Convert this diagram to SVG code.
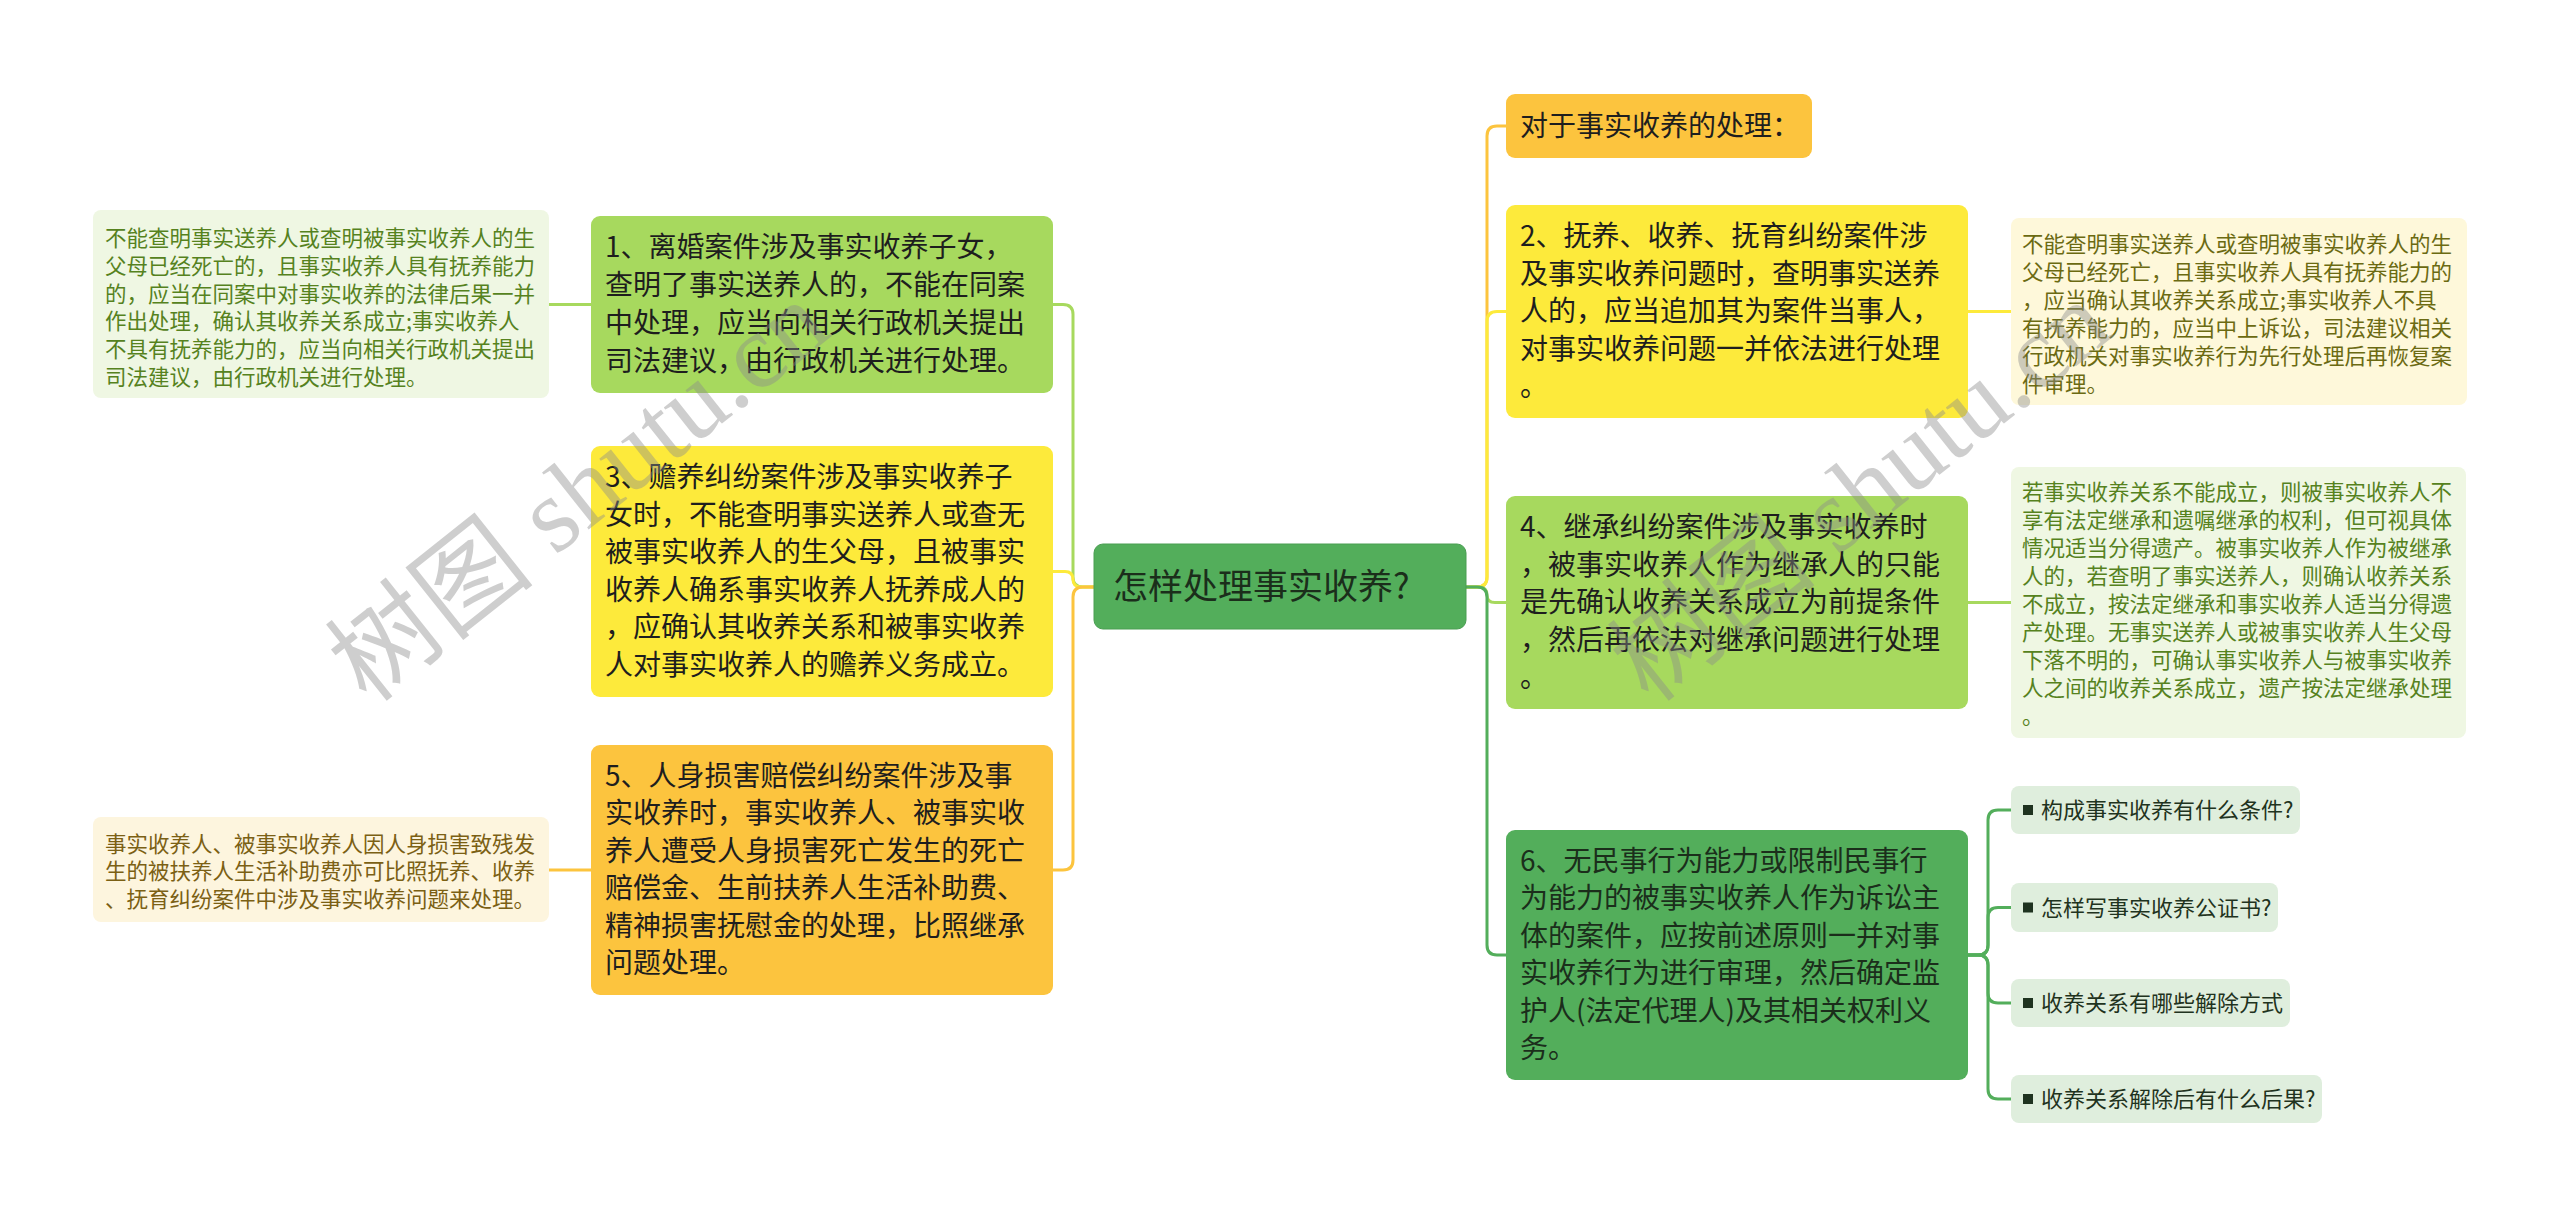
<svg xmlns="http://www.w3.org/2000/svg" width="2560" height="1218" viewBox="0 0 2560 1218">
<style>
text{font-family:"Noto Sans CJK SC","Noto Sans",sans-serif;}
.main{font-size:28px;fill:#1e1e1e;}
.dark{font-size:28px;fill:#1b2e1b;}
.root{font-size:35px;fill:#1b2e1b;}
.leaf{font-size:21.5px;}
.item{font-size:22px;fill:#1f3320;}
.c{fill:none;stroke-width:3;}
.wm{font-family:"Liberation Serif","Noto Sans CJK SC",serif;font-size:106px;fill:#8c8c8c;opacity:0.42;}
</style>
<rect width="2560" height="1218" fill="#ffffff"/>
<g id="connectors">
  <path class="c" stroke="#a7d95e" d="M1094,587 H1083 Q1073,587 1073,577 V314.5 Q1073,304.5 1063,304.5 H1053"/>
  <path class="c" stroke="#fdea3b" d="M1094,587 H1081 Q1073,587 1073,579.5 Q1073,571.5 1065,571.5 H1053"/>
  <path class="c" stroke="#fcc43e" d="M1094,587 H1083 Q1073,587 1073,597 V860 Q1073,870 1063,870 H1053"/>
  <path class="c" stroke="#a7d95e" d="M591,304.5 H549"/>
  <path class="c" stroke="#fcc43e" d="M591,870 H549"/>
  <path class="c" stroke="#fcc43e" d="M1466,587 H1477 Q1487,587 1487,577 V136 Q1487,126 1497,126 H1506"/>
  <path class="c" stroke="#fdea3b" d="M1466,587 H1477 Q1487,587 1487,577 V321.5 Q1487,311.5 1497,311.5 H1506"/>
  <path class="c" stroke="#a7d95e" d="M1466,587 H1479 Q1487,587 1487,595 Q1487,602.5 1495,602.5 H1506"/>
  <path class="c" stroke="#53ae5b" d="M1466,587 H1477 Q1487,587 1487,597 V945 Q1487,955 1497,955 H1506"/>
  <path class="c" stroke="#fdea3b" d="M1968,311.5 H2011"/>
  <path class="c" stroke="#a7d95e" d="M1968,602.5 H2011"/>
  <path class="c" stroke="#53ae5b" d="M1968,955 H1978 Q1988,955 1988,945 V820 Q1988,810 1998,810 H2011"/>
  <path class="c" stroke="#53ae5b" d="M1968,955 H1978 Q1988,955 1988,945 V917.5 Q1988,907.5 1998,907.5 H2011"/>
  <path class="c" stroke="#53ae5b" d="M1968,955 H1978 Q1988,955 1988,965 V993 Q1988,1003 1998,1003 H2011"/>
  <path class="c" stroke="#53ae5b" d="M1968,955 H1978 Q1988,955 1988,965 V1089 Q1988,1099 1998,1099 H2011"/>
</g>
<g id="root">
  <rect x="1094" y="544" width="372" height="85" rx="9" fill="#53ae5b" stroke="#4a9e52" stroke-width="1"/>
  <text class="root" x="1113" y="599">怎样处理事实收养?</text>
</g>
<g id="n1">
  <rect x="591" y="216" width="462" height="177" rx="9" fill="#a7d95e"/>
  <text class="main"><tspan x="605" y="257">1、离婚案件涉及事实收养子女，</tspan><tspan x="605" y="295">查明了事实送养人的，不能在同案</tspan><tspan x="605" y="333">中处理，应当向相关行政机关提出</tspan><tspan x="605" y="371">司法建议，由行政机关进行处理。</tspan></text>
</g>
<g id="l1">
  <rect x="93" y="210" width="456" height="188" rx="8" fill="#eff7e3"/>
  <text class="leaf" fill="#56821e"><tspan x="105" y="246">不能查明事实送养人或查明被事实收养人的生</tspan><tspan x="105" y="273.8">父母已经死亡的，且事实收养人具有抚养能力</tspan><tspan x="105" y="301.6">的，应当在同案中对事实收养的法律后果一并</tspan><tspan x="105" y="329.4">作出处理，确认其收养关系成立;事实收养人</tspan><tspan x="105" y="357.2">不具有抚养能力的，应当向相关行政机关提出</tspan><tspan x="105" y="385">司法建议，由行政机关进行处理。</tspan></text>
</g>
<g id="n3">
  <rect x="591" y="446" width="462" height="251" rx="9" fill="#fdea3b"/>
  <text class="main"><tspan x="605" y="487">3、赡养纠纷案件涉及事实收养子</tspan><tspan x="605" y="524.6">女时，不能查明事实送养人或查无</tspan><tspan x="605" y="562.2">被事实收养人的生父母，且被事实</tspan><tspan x="605" y="599.8">收养人确系事实收养人抚养成人的</tspan><tspan x="605" y="637.4">，应确认其收养关系和被事实收养</tspan><tspan x="605" y="675">人对事实收养人的赡养义务成立。</tspan></text>
</g>
<g id="n5">
  <rect x="591" y="745" width="462" height="250" rx="9" fill="#fcc43e"/>
  <text class="main"><tspan x="605" y="786">5、人身损害赔偿纠纷案件涉及事</tspan><tspan x="605" y="823.4">实收养时，事实收养人、被事实收</tspan><tspan x="605" y="860.8">养人遭受人身损害死亡发生的死亡</tspan><tspan x="605" y="898.2">赔偿金、生前扶养人生活补助费、</tspan><tspan x="605" y="935.6">精神损害抚慰金的处理，比照继承</tspan><tspan x="605" y="973">问题处理。</tspan></text>
</g>
<g id="l5">
  <rect x="93" y="817" width="456" height="105" rx="8" fill="#fdf5de"/>
  <text class="leaf" fill="#7b6014"><tspan x="105" y="851.5">事实收养人、被事实收养人因人身损害致残发</tspan><tspan x="105" y="879.2">生的被扶养人生活补助费亦可比照抚养、收养</tspan><tspan x="105" y="906.9">、抚育纠纷案件中涉及事实收养问题来处理。</tspan></text>
</g>
<g id="r0">
  <rect x="1506" y="94" width="306" height="64" rx="9" fill="#fcc43e"/>
  <text class="main" x="1520" y="136">对于事实收养的处理：</text>
</g>
<g id="n2">
  <rect x="1506" y="205" width="462" height="213" rx="9" fill="#fdea3b"/>
  <text class="main"><tspan x="1520" y="246">2、抚养、收养、抚育纠纷案件涉</tspan><tspan x="1520" y="283.5">及事实收养问题时，查明事实送养</tspan><tspan x="1520" y="321">人的，应当追加其为案件当事人，</tspan><tspan x="1520" y="358.5">对事实收养问题一并依法进行处理</tspan><tspan x="1520" y="396">。</tspan></text>
</g>
<g id="l2">
  <rect x="2011" y="218" width="456" height="187" rx="8" fill="#fef8da"/>
  <text class="leaf" fill="#6b6a12"><tspan x="2022" y="251.5">不能查明事实送养人或查明被事实收养人的生</tspan><tspan x="2022" y="279.5">父母已经死亡，且事实收养人具有抚养能力的</tspan><tspan x="2022" y="307.5">，应当确认其收养关系成立;事实收养人不具</tspan><tspan x="2022" y="335.5">有抚养能力的，应当中上诉讼，司法建议相关</tspan><tspan x="2022" y="363.5">行政机关对事实收养行为先行处理后再恢复案</tspan><tspan x="2022" y="391.5">件审理。</tspan></text>
</g>
<g id="n4">
  <rect x="1506" y="496" width="462" height="213" rx="9" fill="#a7d95e"/>
  <text class="main"><tspan x="1520" y="537">4、继承纠纷案件涉及事实收养时</tspan><tspan x="1520" y="574.5">，被事实收养人作为继承人的只能</tspan><tspan x="1520" y="612">是先确认收养关系成立为前提条件</tspan><tspan x="1520" y="649.5">，然后再依法对继承问题进行处理</tspan><tspan x="1520" y="687">。</tspan></text>
</g>
<g id="l4">
  <rect x="2011" y="467" width="455" height="271" rx="8" fill="#eff7e3"/>
  <text class="leaf" fill="#56821e"><tspan x="2022" y="500">若事实收养关系不能成立，则被事实收养人不</tspan><tspan x="2022" y="528">享有法定继承和遗嘱继承的权利，但可视具体</tspan><tspan x="2022" y="556">情况适当分得遗产。被事实收养人作为被继承</tspan><tspan x="2022" y="584">人的，若查明了事实送养人，则确认收养关系</tspan><tspan x="2022" y="612">不成立，按法定继承和事实收养人适当分得遗</tspan><tspan x="2022" y="640">产处理。无事实送养人或被事实收养人生父母</tspan><tspan x="2022" y="668">下落不明的，可确认事实收养人与被事实收养</tspan><tspan x="2022" y="696">人之间的收养关系成立，遗产按法定继承处理</tspan><tspan x="2022" y="724">。</tspan></text>
</g>
<g id="n6">
  <rect x="1506" y="830" width="462" height="250" rx="9" fill="#53ae5b"/>
  <text class="dark"><tspan x="1520" y="871">6、无民事行为能力或限制民事行</tspan><tspan x="1520" y="908.4">为能力的被事实收养人作为诉讼主</tspan><tspan x="1520" y="945.8">体的案件，应按前述原则一并对事</tspan><tspan x="1520" y="983.2">实收养行为进行审理，然后确定监</tspan><tspan x="1520" y="1020.6">护人(法定代理人)及其相关权利义</tspan><tspan x="1520" y="1058">务。</tspan></text>
</g>
<g id="i1">
  <rect x="2011" y="786" width="289" height="48" rx="8" fill="#dfeedd"/>
  <rect x="2023" y="805" width="10" height="10" fill="#1f3320"/>
  <text class="item" x="2041" y="818">构成事实收养有什么条件?</text>
</g>
<g id="i2">
  <rect x="2011" y="883" width="267" height="49" rx="8" fill="#dfeedd"/>
  <rect x="2023" y="902.5" width="10" height="10" fill="#1f3320"/>
  <text class="item" x="2041" y="915.5">怎样写事实收养公证书?</text>
</g>
<g id="i3">
  <rect x="2011" y="979" width="279" height="48" rx="8" fill="#dfeedd"/>
  <rect x="2023" y="998" width="10" height="10" fill="#1f3320"/>
  <text class="item" x="2041" y="1011">收养关系有哪些解除方式</text>
</g>
<g id="i4">
  <rect x="2011" y="1075" width="311" height="48" rx="8" fill="#dfeedd"/>
  <rect x="2023" y="1094" width="10" height="10" fill="#1f3320"/>
  <text class="item" x="2041" y="1107">收养关系解除后有什么后果?</text>
</g>
<g id="watermark">
  <text class="wm" transform="translate(368,705) rotate(-38.5)">树图 shutu.cn</text>
  <text class="wm" transform="translate(1650,705) rotate(-38.5)">树图 shutu.cn</text>
</g>
</svg>
